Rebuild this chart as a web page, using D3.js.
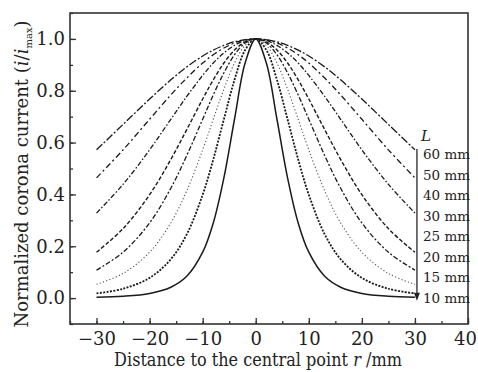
<!DOCTYPE html>
<html>
<head>
<meta charset="utf-8">
<script src="https://cdn.jsdelivr.net/npm/d3@7"></script>
<style>
  body { margin: 0; background: #fff; }
  text { font-family: "DejaVu Serif", serif; fill: #222; }
</style>
</head>
<body>
<div id="chart"></div>
<script>
// distance to the central point r (mm)
var rValues = [-30, -25, -20, -16, -13, -10, -8, -6, -4, -2, 0, 2, 4, 6, 8, 10, 13, 16, 20, 25, 30];

// normalized corona current for each needle height L
var L60 = [0.572, 0.670, 0.768, 0.842, 0.892, 0.934, 0.957, 0.975, 0.989, 0.997, 1, 0.997, 0.989, 0.975, 0.957, 0.934, 0.892, 0.842, 0.768, 0.670, 0.572];
var L50 = [0.464, 0.572, 0.690, 0.784, 0.849, 0.907, 0.939, 0.965, 0.984, 0.996, 1, 0.996, 0.984, 0.965, 0.939, 0.907, 0.849, 0.784, 0.690, 0.572, 0.464];
var L40 = [0.328, 0.439, 0.572, 0.690, 0.778, 0.859, 0.907, 0.946, 0.975, 0.994, 1, 0.994, 0.975, 0.946, 0.907, 0.859, 0.778, 0.690, 0.572, 0.439, 0.328];
var L30 = [0.177, 0.268, 0.399, 0.535, 0.650, 0.768, 0.842, 0.907, 0.957, 0.989, 1, 0.989, 0.957, 0.907, 0.842, 0.768, 0.650, 0.535, 0.399, 0.268, 0.177];
var L25 = [0.108, 0.177, 0.290, 0.424, 0.550, 0.690, 0.784, 0.869, 0.939, 0.984, 1, 0.984, 0.939, 0.869, 0.784, 0.690, 0.550, 0.424, 0.290, 0.177, 0.108];
var L20 = [0.053, 0.095, 0.177, 0.290, 0.414, 0.572, 0.690, 0.806, 0.907, 0.975, 1, 0.975, 0.907, 0.806, 0.690, 0.572, 0.414, 0.290, 0.177, 0.095, 0.053];
var L15 = [0.018, 0.036, 0.078, 0.150, 0.246, 0.399, 0.535, 0.690, 0.842, 0.957, 1, 0.957, 0.842, 0.690, 0.535, 0.399, 0.246, 0.150, 0.078, 0.036, 0.018];
var L10 = [0.003, 0.007, 0.018, 0.042, 0.084, 0.177, 0.290, 0.464, 0.690, 0.907, 1, 0.907, 0.690, 0.464, 0.290, 0.177, 0.084, 0.042, 0.018, 0.007, 0.003];

var seriesNames = ["60 mm", "50 mm", "40 mm", "30 mm", "25 mm", "20 mm", "15 mm", "10 mm"];
var seriesValues = [L60, L50, L40, L30, L25, L20, L15, L10];

var xTicks = [-30, -20, -10, 0, 10, 20, 30, 40];
var yTicks = [0, 0.2, 0.4, 0.6, 0.8, 1.0];

// line styles, one per series
var dashes = ["8,2,2,2", "6,3,2,3", "5,2,1.5,2", "4,2", "5,2,2,2", "1.2,2.2", "2,1.4", null];
var widths = [1.3, 1.3, 1.3, 1.4, 1.3, 1.1, 1.8, 1.5];

var W = 478, H = 372;
var margin = {top: 13, right: 10, bottom: 48, left: 70},
    width = W - margin.left - margin.right,
    height = H - margin.top - margin.bottom;

var svg = d3.select("#chart").append("svg")
    .attr("width", W)
    .attr("height", H);

var g = svg.append("g")
    .attr("transform", `translate(${margin.left},${margin.top})`);

var x = d3.scaleLinear().domain([-35, 40]).range([0, width]);
var y = d3.scaleLinear().domain([-0.1, 1.1]).range([height, 0]);

// minor ticks
g.append("g")
    .attr("transform", `translate(0,${height})`)
    .call(d3.axisBottom(x).tickValues(d3.range(-35, 41, 5)).tickSize(-3).tickFormat(""))
    .call(a => a.select(".domain").remove());
g.append("g")
    .call(d3.axisLeft(y).tickValues(d3.range(-0.1, 1.11, 0.1)).tickSize(-3).tickFormat(""))
    .call(a => a.select(".domain").remove());

// major ticks
var xAxis = g.append("g")
    .attr("transform", `translate(0,${height})`)
    .call(d3.axisBottom(x).tickValues(xTicks).tickSize(-6).tickPadding(8)
        .tickFormat(d => d < 0 ? "\u2212" + Math.abs(d) : d));
xAxis.select(".domain").remove();
xAxis.selectAll("text").style("font-size", "18px").style("font-family", "DejaVu Serif").style("fill", "#222");
// last label sits on the window edge, nudge it in
xAxis.selectAll("text").filter(d => d === 40).attr("dx", -3);

var yAxis = g.append("g")
    .call(d3.axisLeft(y).tickValues(yTicks).tickSize(-6).tickPadding(5).tickFormat(d3.format(".1f")));
yAxis.select(".domain").remove();
yAxis.selectAll("text").style("font-size", "18px").style("font-family", "DejaVu Serif").style("fill", "#222");

g.selectAll(".tick line").attr("stroke", "#333").attr("stroke-width", 1.3);

// frame
g.append("rect")
    .attr("width", width)
    .attr("height", height)
    .attr("fill", "none")
    .attr("stroke", "#333")
    .attr("stroke-width", 1.6);

// curves
var line = d3.line()
    .x((d, i) => x(rValues[i]))
    .y(d => y(d))
    .curve(d3.curveCatmullRom);

seriesValues.forEach(function(vals, k) {
    g.append("path")
        .datum(vals)
        .attr("fill", "none")
        .attr("stroke", k === 5 ? "#555" : "#1a1a1a")
        .attr("stroke-width", widths[k])
        .attr("stroke-dasharray", dashes[k])
        .attr("d", line);
});

// legend: arrow and labels
var legendX = x(30) + 2;
var legendTop = y(0.575), legendBottom = y(-0.01);
g.append("line")
    .attr("x1", legendX).attr("x2", legendX)
    .attr("y1", legendTop).attr("y2", legendBottom - 6)
    .attr("stroke", "#444").attr("stroke-width", 1.5);
g.append("path")
    .attr("d", `M${legendX - 3},${legendBottom - 8} L${legendX + 3},${legendBottom - 8} L${legendX},${legendBottom} Z`)
    .attr("fill", "#222");

g.append("text")
    .attr("x", legendX + 9)
    .attr("y", y(0.605))
    .attr("text-anchor", "middle")
    .style("font-size", "15px")
    .style("font-style", "italic")
    .text("L");

var labelStep = (y(0.0) - y(0.555)) / 7;
g.selectAll(".lab")
    .data(seriesNames)
    .enter().append("text")
    .attr("x", legendX + 6)
    .attr("y", (d, i) => y(0.555) + i * labelStep)
    .attr("dy", "0.35em")
    .style("font-size", "13.5px")
    .text(d => d);

// squeeze a centred title horizontally to a target length
function fitText(t, target, tx, ty, rot) {
    var w = t.node().getComputedTextLength();
    var s = Math.min(1, target / w);
    t.attr("transform", `translate(${tx},${ty}) rotate(${rot}) scale(${s},1)`);
}

// axis titles
var xt = svg.append("text")
    .attr("text-anchor", "middle")
    .style("font-size", "18px");
xt.append("tspan").text("Distance to the central point ");
xt.append("tspan").style("font-style", "italic").text("r");
xt.append("tspan").text(" /mm");
fitText(xt, 288, 258, 366, 0);

var yt = svg.append("text")
    .attr("text-anchor", "middle")
    .style("font-size", "18px");
yt.append("tspan").text("Normalized corona current (");
yt.append("tspan").style("font-style", "italic").text("i");
yt.append("tspan").text("/");
yt.append("tspan").style("font-style", "italic").text("i");
yt.append("tspan").attr("dy", 4).style("font-size", "10px").text("max");
yt.append("tspan").attr("dy", -4).text(")");
fitText(yt, 326, 28, 174, -90);
</script>
</body>
</html>
